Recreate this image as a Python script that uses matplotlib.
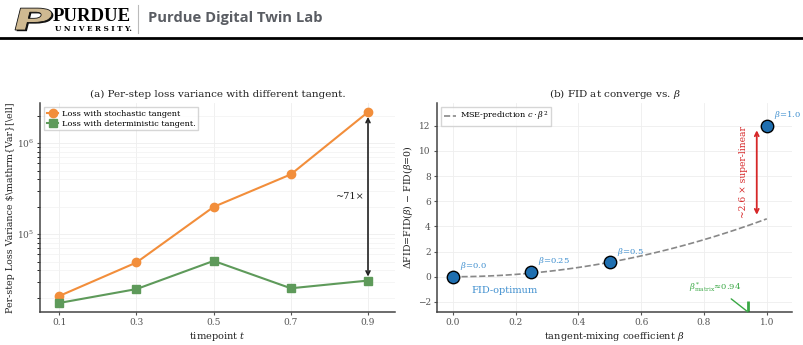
import matplotlib
matplotlib.use("Agg")
import matplotlib.pyplot as plt
import matplotlib.patheffects as pe
from matplotlib.textpath import TextPath
from matplotlib.patches import PathPatch
from matplotlib.font_manager import FontProperties
from matplotlib.transforms import Affine2D
import numpy as np

plt.rcParams['font.family'] = ['DejaVu Serif']
plt.rcParams['mathtext.fontset'] = 'dejavuserif'

# (a) per-step loss variance
timepoints = [0.1, 0.3, 0.5, 0.7, 0.9]
var_stochastic = [21000, 49000, 200000, 455000, 2200000]
var_deterministic = [17600, 25000, 51000, 25500, 31000]

# (b) FID vs beta
betas = [0.0, 0.25, 0.5, 1.0]
delta_fid = [0.0, 0.4, 1.15, 12.0]
beta_labels = ['0.0', '0.25', '0.5', '1.0']
c_fit = 4.6
beta_matrix = 0.94

orange = '#f28e3b'
green = '#5e9a5a'
blue = '#1f6fb0'
lblue = '#3f8fcf'
red = '#d62728'
gcol = '#3aa845'

fig = plt.figure(figsize=(8.04, 3.45), dpi=100)

# header: Purdue logo + lab name
ppath = TextPath((0, 0), 'P', size=1, prop=FontProperties(family='DejaVu Sans', weight='bold'))
ptrans = Affine2D().scale(0.55, 0.30).skew_deg(14, 0).translate(0.10, 3.45 - 0.30)
fig.add_artist(PathPatch(ppath, facecolor='#101010', edgecolor='none',
                         transform=ptrans + Affine2D().translate(0.015, -0.012) + fig.dpi_scale_trans))
fig.add_artist(PathPatch(ppath, facecolor='#cfb991', edgecolor='#101010', lw=0.6,
                         transform=ptrans + fig.dpi_scale_trans))
fig.text(0.066, 0.952, 'PURDUE', fontsize=13.5, fontweight='bold', color='black',
         family='Liberation Serif', va='center')
fig.text(0.068, 0.916, 'U N I V E R S I T Y.', fontsize=5.2, fontweight='bold',
         color='black', family='DejaVu Serif', va='center')
fig.add_artist(plt.Line2D([0.172, 0.172], [0.905, 0.985], color='#bbbbbb', lw=0.8))
fig.text(0.184, 0.948, 'Purdue Digital Twin Lab', fontsize=10.6, fontweight='bold',
         color='#5a5d63', family='Open Sans', va='center')
fig.add_artist(plt.Line2D([0, 1], [0.891, 0.891], color='black', lw=2))

# ---- panel (a)
ax1 = fig.add_axes([0.0498, 0.0957, 0.4415, 0.6058])
ax1.plot(timepoints, var_stochastic, '-o', color=orange, lw=1.5, ms=6,
         label='Loss with stochastic tangent')
ax1.plot(timepoints, var_deterministic, '-s', color=green, lw=1.5, ms=5.5,
         label='Loss with deterministic tangent.')
ax1.set_yscale('log')
ax1.set_xlim(0.05, 0.97)
ax1.set_ylim(14000, 2.77e6)
ax1.set_xticks(timepoints)
ax1.annotate('', xy=(0.9, var_stochastic[-1] * 0.95), xytext=(0.9, var_deterministic[-1] * 1.03),
             arrowprops=dict(arrowstyle='<->', color='#222222', lw=1.2, mutation_scale=7))
ax1.text(0.853, 257000, r'~71×', fontsize=7, color='#222222', ha='center', va='center')
ax1.set_title('(a) Per-step loss variance with different tangent.', fontsize=7.5,
              color='#222222', pad=4)
ax1.set_xlabel('timepoint $t$', fontsize=7, color='#222222', labelpad=2)
ax1.set_ylabel('Per-step Loss Variance $\\mathrm{Var}[\\ell]', fontsize=6.8,
               color='#222222', labelpad=1)
ax1.legend(loc='upper left', fontsize=5.9, fancybox=False, edgecolor='#cccccc',
           handlelength=1.4, borderpad=0.35, labelspacing=0.2, handletextpad=0.4)

# ---- panel (b)
ax2 = fig.add_axes([0.5435, 0.0957, 0.4415, 0.6058])
bb = np.linspace(0, 1, 100)
ax2.plot(bb, c_fit * bb ** 2, '--', color='#888888', lw=1.2,
         label=r'MSE-prediction $c\cdot\beta^2$')
ax2.scatter(betas, delta_fid, s=80, color=blue, edgecolor='black', lw=1, zorder=5)
for b, d, lab in zip(betas, delta_fid, beta_labels):
    ax2.annotate(r'$\beta$=' + lab, (b, d), xytext=(5, 6), textcoords='offset points',
                 fontsize=6, color=lblue)
ax2.text(0.06, -1.1, 'FID-optimum', fontsize=7, color=lblue, va='center')
ax2.annotate('', xy=(0.968, 11.85), xytext=(0.968, 4.7),
             arrowprops=dict(arrowstyle='<->', color=red, lw=1.3, mutation_scale=7))
ax2.text(0.925, 8.3, '~2.6 × super-linear', rotation=90, fontsize=6.6, color=red,
         ha='center', va='center')
ax2.vlines(beta_matrix, -2.8, -1.9, color=gcol, lw=2)
ax2.annotate(r'$\beta^*_{\rm matrix}$≈0.94', xy=(beta_matrix, -2.8), xytext=(0.835, -0.75),
             fontsize=6, color=gcol, ha='center', va='center',
             arrowprops=dict(arrowstyle='-', color=gcol, lw=1, shrinkA=4, shrinkB=0))
ax2.set_xlim(-0.05, 1.08)
ax2.set_ylim(-2.8, 13.8)
ax2.set_yticks([-2, 0, 2, 4, 6, 8, 10, 12])
ax2.set_title(r'(b) FID at converge vs. $\beta$', fontsize=7.5, color='#222222', pad=4)
ax2.set_xlabel(r'tangent-mixing coefficient $\beta$', fontsize=7, color='#222222', labelpad=2)
ax2.set_ylabel(r'$\Delta$FID=FID($\beta$) $-$ FID($\beta$=0)', fontsize=6.8,
               color='#222222', labelpad=2)
ax2.legend(loc='upper left', fontsize=5.9, fancybox=False, edgecolor='#cccccc',
           handlelength=1.5, borderpad=0.35, handletextpad=0.4)

for ax in (ax1, ax2):
    for s in ('top', 'right'):
        ax.spines[s].set_visible(False)
    for s in ('left', 'bottom'):
        ax.spines[s].set_color('#444444')
        ax.spines[s].set_linewidth(1.1)
    ax.tick_params(labelsize=6.5, colors='#555555', length=2.5, width=0.8, pad=2)
    ax.grid(True, which='major', color='#eeeeee', lw=0.6)
    ax.set_axisbelow(True)
ax1.grid(True, which='minor', axis='y', color='#f2f2f2', lw=0.5)

fig.savefig('out.png', dpi=100)
